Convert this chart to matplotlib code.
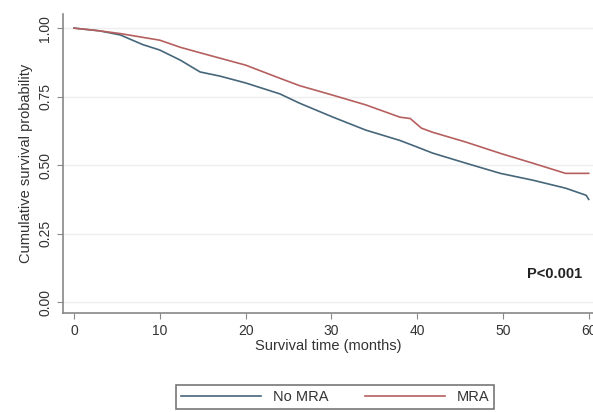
import matplotlib
matplotlib.use("Agg")
import matplotlib.pyplot as plt

plt.rcParams['font.family'] = ['Liberation Sans', 'DejaVu Sans']

# survival curves (months, probability)
no_mra_t = [0, 3, 5.4, 8, 10, 12.4, 14.7, 17, 20, 24, 26.3, 30.2, 34, 38, 40, 41.8, 45.7, 49.7, 53.5, 57.3, 59.7, 60]
no_mra_s = [1.0, 0.99, 0.975, 0.94, 0.92, 0.883, 0.84, 0.825, 0.80, 0.76, 0.726, 0.675, 0.628, 0.59, 0.566, 0.544, 0.507, 0.47, 0.445, 0.416, 0.39, 0.375]

mra_t = [0, 3, 5.4, 10, 12.4, 14.7, 20, 24, 26.3, 30.2, 34, 38, 39.2, 40.5, 41.8, 45.7, 49.7, 53.5, 57.3, 59.7, 60]
mra_s = [1.0, 0.99, 0.98, 0.956, 0.93, 0.91, 0.865, 0.817, 0.79, 0.755, 0.72, 0.675, 0.67, 0.635, 0.62, 0.584, 0.543, 0.507, 0.47, 0.47, 0.47]

x_ticks = [0, 10, 20, 30, 40, 50, 60]
y_ticks = [0.0, 0.25, 0.5, 0.75, 1.0]
y_labels = ["0.00", "0.25", "0.50", "0.75", "1.00"]

fig = plt.figure(figsize=(5.93, 4.12), dpi=100)
ax = fig.add_axes([0.106, 0.24, 0.894, 0.725])

ax.plot(no_mra_t, no_mra_s, color="#46667a", lw=1.2, label="No MRA")
ax.plot(mra_t, mra_s, color="#b5605f", lw=1.2, label="MRA")

ax.set_xlim(-1.3, 60.5)
ax.set_ylim(-0.04, 1.05)
ax.set_xticks(x_ticks)
ax.set_yticks(y_ticks)
ax.set_yticklabels(y_labels, rotation=90, va="center")
ax.tick_params(colors="#333333", labelsize=10, length=4, color="#888888")
ax.grid(axis="y", color="#eeeeee", lw=1)

for s in ["top", "right"]:
    ax.spines[s].set_visible(False)
for s in ["left", "bottom"]:
    ax.spines[s].set_color("#888888")
    ax.spines[s].set_linewidth(1.2)

ax.set_xlabel("Survival time (months)", fontsize=10.5, color="#333333", labelpad=1)
ax.set_ylabel("Cumulative survival probability", fontsize=10.5, color="#333333", labelpad=4)

ax.text(0.98, 0.13, "P<0.001", transform=ax.transAxes, fontsize=10.5,
        fontweight="bold", ha="right", va="center", color="#222222")

leg = fig.legend(loc="lower center", bbox_to_anchor=(0.565, -0.01), ncol=2,
                 frameon=True, fancybox=False, fontsize=10.5, handlelength=5.5,
                 columnspacing=2.5, borderpad=0.35)
leg.get_frame().set_edgecolor("#555555")
leg.get_frame().set_linewidth(1.2)
for t in leg.get_texts():
    t.set_color("#333333")

fig.savefig("out.png", dpi=100)
